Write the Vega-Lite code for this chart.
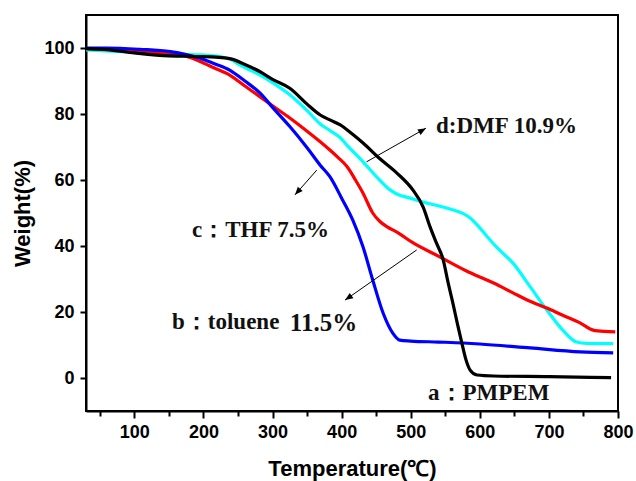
{
  "$schema": "https://vega.github.io/schema/vega-lite/v6.json",
  "width": 532,
  "height": 396,
  "autosize": {"type": "none"},
  "padding": {"left": 86, "top": 15, "right": 18, "bottom": 70},
  "background": "white",
  "config": {
    "view": {"stroke": "#000000", "strokeWidth": 2},
    "axis": {
      "domainColor": "#000000", "domainWidth": 2,
      "tickColor": "#000000", "tickWidth": 2, "tickSize": 6,
      "labelFont": "Liberation Sans", "labelFontWeight": "bold", "labelFontSize": 18, "labelColor": "#000000",
      "titleFont": "Liberation Sans", "titleFontWeight": "bold", "titleFontSize": 22, "titleColor": "#000000",
      "grid": false
    }
  },
  "resolve": {"axis": {"x": "independent"}},
  "datasets": {
    "curves": [
      {"s": "d", "t": 30, "w": 99.4}, {"s": "d", "t": 108, "w": 98.6}, {"s": "d", "t": 150, "w": 98.2}, {"s": "d", "t": 195, "w": 97.9},
      {"s": "d", "t": 224, "w": 97.4}, {"s": "d", "t": 240, "w": 96.5}, {"s": "d", "t": 253, "w": 94.8}, {"s": "d", "t": 282, "w": 91.8},
      {"s": "d", "t": 300, "w": 89.5}, {"s": "d", "t": 325, "w": 85.8}, {"s": "d", "t": 350, "w": 81}, {"s": "d", "t": 369, "w": 77},
      {"s": "d", "t": 383, "w": 75}, {"s": "d", "t": 398, "w": 72.8}, {"s": "d", "t": 408, "w": 70.5}, {"s": "d", "t": 431, "w": 65.5},
      {"s": "d", "t": 455, "w": 60}, {"s": "d", "t": 470, "w": 57}, {"s": "d", "t": 485, "w": 55.3}, {"s": "d", "t": 494, "w": 54.8},
      {"s": "d", "t": 518, "w": 53.3}, {"s": "d", "t": 552, "w": 51.5}, {"s": "d", "t": 586, "w": 48.5}, {"s": "d", "t": 600, "w": 45.5},
      {"s": "d", "t": 612, "w": 42.5}, {"s": "d", "t": 625, "w": 39.5}, {"s": "d", "t": 648, "w": 34.8}, {"s": "d", "t": 673, "w": 27.6},
      {"s": "d", "t": 697, "w": 20.6}, {"s": "d", "t": 720, "w": 14.5}, {"s": "d", "t": 740, "w": 10.9}, {"s": "d", "t": 755, "w": 10.5},
      {"s": "d", "t": 793, "w": 10.4},

      {"s": "c", "t": 30, "w": 99.8}, {"s": "c", "t": 100, "w": 99.2}, {"s": "c", "t": 150, "w": 98.3}, {"s": "c", "t": 175, "w": 97.5},
      {"s": "c", "t": 195, "w": 95.9}, {"s": "c", "t": 215, "w": 94}, {"s": "c", "t": 238, "w": 91.8}, {"s": "c", "t": 260, "w": 88.5},
      {"s": "c", "t": 282, "w": 85.2}, {"s": "c", "t": 300, "w": 82.5}, {"s": "c", "t": 325, "w": 78.8}, {"s": "c", "t": 350, "w": 74.8},
      {"s": "c", "t": 369, "w": 71.6}, {"s": "c", "t": 383, "w": 69.1}, {"s": "c", "t": 395, "w": 66.8}, {"s": "c", "t": 408, "w": 64},
      {"s": "c", "t": 420, "w": 60}, {"s": "c", "t": 431, "w": 56}, {"s": "c", "t": 445, "w": 50}, {"s": "c", "t": 455, "w": 47.5},
      {"s": "c", "t": 466, "w": 45.8}, {"s": "c", "t": 480, "w": 44.2}, {"s": "c", "t": 503, "w": 41}, {"s": "c", "t": 542, "w": 36.7},
      {"s": "c", "t": 580, "w": 32.5}, {"s": "c", "t": 600, "w": 30.6}, {"s": "c", "t": 620, "w": 28.8}, {"s": "c", "t": 648, "w": 25.8},
      {"s": "c", "t": 670, "w": 23.5}, {"s": "c", "t": 697, "w": 21.2}, {"s": "c", "t": 720, "w": 19}, {"s": "c", "t": 745, "w": 16.7},
      {"s": "c", "t": 764, "w": 14.5}, {"s": "c", "t": 780, "w": 14.1}, {"s": "c", "t": 796, "w": 14},

      {"s": "b", "t": 30, "w": 100}, {"s": "b", "t": 60, "w": 100}, {"s": "b", "t": 108, "w": 99.6}, {"s": "b", "t": 152, "w": 98.9},
      {"s": "b", "t": 175, "w": 98}, {"s": "b", "t": 195, "w": 96.9}, {"s": "b", "t": 215, "w": 95.3}, {"s": "b", "t": 238, "w": 93.3},
      {"s": "b", "t": 260, "w": 90}, {"s": "b", "t": 282, "w": 86.3}, {"s": "b", "t": 300, "w": 82}, {"s": "b", "t": 325, "w": 76.2},
      {"s": "b", "t": 350, "w": 69.8}, {"s": "b", "t": 369, "w": 64.5}, {"s": "b", "t": 383, "w": 61}, {"s": "b", "t": 400, "w": 54.5},
      {"s": "b", "t": 416, "w": 47.9}, {"s": "b", "t": 431, "w": 39.7}, {"s": "b", "t": 445, "w": 29.7}, {"s": "b", "t": 460, "w": 19.7},
      {"s": "b", "t": 474, "w": 13.6}, {"s": "b", "t": 484, "w": 11.5}, {"s": "b", "t": 500, "w": 11.2}, {"s": "b", "t": 540, "w": 10.9},
      {"s": "b", "t": 576, "w": 10.6}, {"s": "b", "t": 600, "w": 10.3}, {"s": "b", "t": 673, "w": 9.1}, {"s": "b", "t": 745, "w": 7.9},
      {"s": "b", "t": 793, "w": 7.6},

      {"s": "a", "t": 30, "w": 99.8}, {"s": "a", "t": 60, "w": 99.5}, {"s": "a", "t": 100, "w": 98.5}, {"s": "a", "t": 150, "w": 97.6},
      {"s": "a", "t": 200, "w": 97.4}, {"s": "a", "t": 238, "w": 96.8}, {"s": "a", "t": 260, "w": 95}, {"s": "a", "t": 282, "w": 92.8},
      {"s": "a", "t": 300, "w": 90.5}, {"s": "a", "t": 325, "w": 87.8}, {"s": "a", "t": 350, "w": 83}, {"s": "a", "t": 369, "w": 79.7},
      {"s": "a", "t": 383, "w": 78.2}, {"s": "a", "t": 398, "w": 76.7}, {"s": "a", "t": 415, "w": 74}, {"s": "a", "t": 431, "w": 71.2},
      {"s": "a", "t": 455, "w": 66.5}, {"s": "a", "t": 480, "w": 62.1}, {"s": "a", "t": 503, "w": 57}, {"s": "a", "t": 518, "w": 51.8},
      {"s": "a", "t": 528, "w": 45.8}, {"s": "a", "t": 537, "w": 41}, {"s": "a", "t": 547, "w": 35.8}, {"s": "a", "t": 554, "w": 29},
      {"s": "a", "t": 561, "w": 22.7}, {"s": "a", "t": 568, "w": 16}, {"s": "a", "t": 574, "w": 10.6}, {"s": "a", "t": 580, "w": 5.5},
      {"s": "a", "t": 586, "w": 2.4}, {"s": "a", "t": 596, "w": 0.9}, {"s": "a", "t": 620, "w": 0.6}, {"s": "a", "t": 700, "w": 0.4},
      {"s": "a", "t": 790, "w": 0.1}
    ],
    "arrows": [
      {"id": "d", "t1": 436, "w1": 65.5, "t2": 522, "w2": 75.7},
      {"id": "c", "t1": 364, "w1": 63, "t2": 332.5, "w2": 55.5},
      {"id": "b", "t1": 508.6, "w1": 38.8, "t2": 404.9, "w2": 23.6}
    ],
    "labels": [
      {"label": "d:DMF 10.9%", "t": 536.5, "w": 76.4},
      {"label": "c：THF 7.5%", "t": 183.4, "w": 44.8},
      {"label": "b：toluene", "t": 154.5, "w": 17.1},
      {"label": "a：PMPEM", "t": 525, "w": -4.5}
    ],
    "biglabels": [
      {"label": "11.5%", "t": 325, "w": 16.8}
    ]
  },
  "layer": [
    {
      "data": {"name": "curves"},
      "mark": {"type": "line", "strokeWidth": 3.2, "interpolate": "monotone"},
      "encoding": {
        "x": {
          "field": "t", "type": "quantitative",
          "scale": {"domain": [30, 800], "nice": false, "zero": false},
          "axis": {
            "title": "Temperature(℃)",
            "orient": "bottom",
            "values": [100, 200, 300, 400, 500, 600, 700, 800],
            "tickSize": 7,
            "labelPadding": 5,
            "labelFlush": false,
            "titleY": 57,
            "titleBaseline": "middle"
          }
        },
        "y": {
          "field": "w", "type": "quantitative",
          "scale": {"domain": [-10, 110], "nice": false, "zero": false},
          "axis": {
            "title": "Weight(%)",
            "values": [0, 10, 20, 30, 40, 50, 60, 70, 80, 90, 100],
            "labelExpr": "datum.value % 20 === 0 ? datum.label : ''",
            "labelPadding": 6,
            "labelFlush": false,
            "labelOverlap": false,
            "titleX": -64,
            "titleY": 198,
            "titleBaseline": "middle",
            "titleAlign": "center"
          }
        },
        "color": {
          "field": "s", "type": "nominal",
          "scale": {"domain": ["a", "b", "c", "d"], "range": ["#000000", "#0000ff", "#ff0000", "#00ffff"]},
          "legend": null
        }
      }
    },
    {
      "data": {"name": "arrows"},
      "mark": {"type": "rule", "color": "#000000", "strokeWidth": 1},
      "encoding": {
        "x": {
          "field": "t1", "type": "quantitative",
          "axis": {
            "orient": "bottom",
            "values": [50, 150, 250, 350, 450, 550, 650, 750],
            "labels": false,
            "title": null,
            "domain": false,
            "tickSize": 5
          }
        },
        "y": {"field": "w1", "type": "quantitative"},
        "x2": {"field": "t2"},
        "y2": {"field": "w2"}
      }
    },
    {
      "data": {"name": "arrows"},
      "transform": [{"filter": "datum.id === 'd'"}],
      "mark": {"type": "point", "shape": "M0,0L-0.4,1L0.4,1Z", "filled": true, "color": "#000000", "size": 256, "angle": 60, "opacity": 1},
      "encoding": {"x": {"field": "t2", "type": "quantitative", "axis": null}, "y": {"field": "w2", "type": "quantitative"}}
    },
    {
      "data": {"name": "arrows"},
      "transform": [{"filter": "datum.id === 'c'"}],
      "mark": {"type": "point", "shape": "M0,0L-0.4,1L0.4,1Z", "filled": true, "color": "#000000", "size": 256, "angle": 221, "opacity": 1},
      "encoding": {"x": {"field": "t2", "type": "quantitative", "axis": null}, "y": {"field": "w2", "type": "quantitative"}}
    },
    {
      "data": {"name": "arrows"},
      "transform": [{"filter": "datum.id === 'b'"}],
      "mark": {"type": "point", "shape": "M0,0L-0.4,1L0.4,1Z", "filled": true, "color": "#000000", "size": 256, "angle": 235, "opacity": 1},
      "encoding": {"x": {"field": "t2", "type": "quantitative", "axis": null}, "y": {"field": "w2", "type": "quantitative"}}
    },
    {
      "data": {"name": "labels"},
      "mark": {"type": "text", "align": "left", "baseline": "middle", "font": "Liberation Serif", "fontWeight": "bold", "fontSize": 23, "color": "#111111"},
      "encoding": {
        "x": {"field": "t", "type": "quantitative", "axis": null},
        "y": {"field": "w", "type": "quantitative"},
        "text": {"field": "label"}
      }
    },
    {
      "data": {"name": "biglabels"},
      "mark": {"type": "text", "align": "left", "baseline": "middle", "font": "Liberation Serif", "fontWeight": "bold", "fontSize": 25, "color": "#111111"},
      "encoding": {
        "x": {"field": "t", "type": "quantitative", "axis": null},
        "y": {"field": "w", "type": "quantitative"},
        "text": {"field": "label"}
      }
    }
  ]
}
